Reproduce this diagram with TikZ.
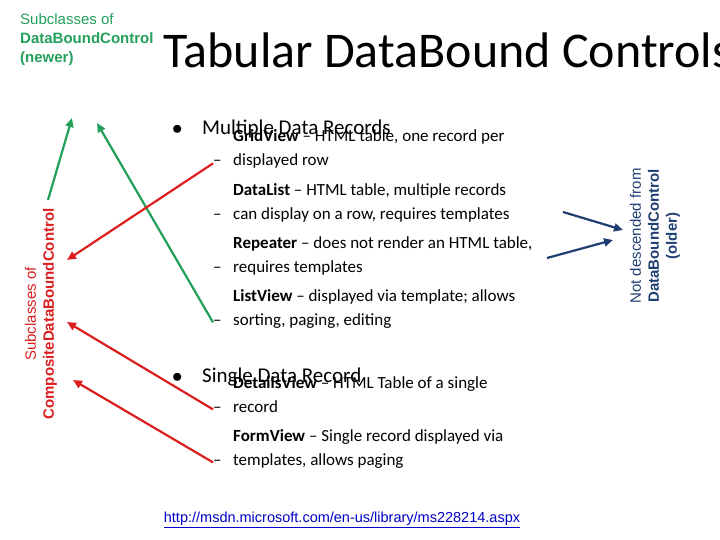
\documentclass[tikz,border=0pt]{standalone}
\usepackage{fontspec}
\setmainfont{Carlito}
\newfontfamily\arial{Liberation Sans}
\usetikzlibrary{positioning,arrows.meta}
\definecolor{newgreen}{RGB}{34,160,90}
\definecolor{compred}{RGB}{220,30,30}
\definecolor{oldblue}{RGB}{31,63,115}
\definecolor{linkblue}{RGB}{0,0,200}
\tikzset{
  item/.style={anchor=base west, inner sep=0, font=\fontsize{17}{24}\selectfont, align=left},
  dashmark/.style={anchor=base west, inner sep=0, font=\fontsize{17}{24}\selectfont},
  bullet/.style={anchor=base west, inner sep=0, font=\fontsize{21}{26}\selectfont},
  point/.style={-{Triangle[length=9pt,width=8pt]}, line width=2.2pt}
}
\begin{document}
\begin{tikzpicture}[x=1pt,y=-1pt]
	\useasboundingbox (0,0) rectangle (720,540);
	
	% headings
	\node[anchor=base west, inner sep=0, font=\fontsize{50}{50}\selectfont] (title) at (163,68) {Tabular DataBound Controls};
	\node[anchor=base west, inner sep=0, align=left, text=newgreen, font=\arial\fontsize{15}{19}\selectfont] (newer) at (20,63)
		{Subclasses of\\ \textbf{DataBoundControl}\\ \textbf{(newer)}};
	\node[rotate=90, inner sep=0, align=center, text=compred, font=\arial\fontsize{15}{18}\selectfont] (comp) at (41,314)
		{Subclasses of\\ \textbf{CompositeDataBoundControl}};
	\node[rotate=90, inner sep=0, align=center, text=oldblue, font=\arial\fontsize{15}{18}\selectfont] (old) at (655,236)
		{Not descended from\\ \textbf{DataBoundControl}\\ \textbf{(older)}};
	
	% multiple records
	\node[bullet] (b1) at (172,135) {$\bullet$};
	\node[bullet] (mdr) at (202,135) {Multiple Data Records};
	\node[dashmark] (d1) at (213,166) {--};
	\node[item] (gv) at (233,166) {\textbf{GridView} -- HTML table, one record per\\ displayed row};
	\node[dashmark] (d2) at (213,219) {--};
	\node[item] (dl) at (233,219) {\textbf{DataList} -- HTML table, multiple records\\ can display on a row, requires templates};
	\node[dashmark] (d3) at (213,272) {--};
	\node[item] (rp) at (233,272) {\textbf{Repeater} -- does not render an HTML table,\\ requires templates};
	\node[dashmark] (d4) at (213,325) {--};
	\node[item] (lv) at (233,325) {\textbf{ListView} -- displayed via template; allows\\ sorting, paging, editing};
	
	% single record
	\node[bullet] (b2) at (172,382) {$\bullet$};
	\node[bullet] (sdr) at (202,382) {Single Data Record};
	\node[dashmark] (d5) at (213,412) {--};
	\node[item] (dv) at (233,412) {\textbf{DetailsView} -- HTML Table of a single\\ record};
	\node[dashmark] (d6) at (213,465) {--};
	\node[item] (fv) at (233,465) {\textbf{FormView} -- Single record displayed via\\ templates, allows paging};
	
	\node[inner sep=0, text=linkblue, font=\arial\fontsize{14.5}{16}\selectfont] (url) at (342,520)
		{\underline{http://msdn.microsoft.com/en-us/library/ms228214.aspx}};
	
	% pointers
	\coordinate (gtip1) at (72,118);
	\coordinate (gtip2) at (97,123);
	\coordinate (gfoot) at (48,200);
	\coordinate (rtip1) at (67,260);
	\coordinate (rtip2) at (67,322);
	\coordinate (rtip3) at (73,380);
	\coordinate (btip1) at (623,230);
	\coordinate (btip2) at (613,240);
	\coordinate (bfoot1) at (563,212);
	\coordinate (bfoot2) at (547,258);
	\draw[point, newgreen] (gfoot) -- (gtip1);
	\draw[point, newgreen] (d4.west) -- (gtip2);
	\draw[point, compred] (d1.west) -- (rtip1);
	\draw[point, compred] (d5.west) -- (rtip2);
	\draw[point, compred] (d6.west) -- (rtip3);
	\draw[point, oldblue] (bfoot1) -- (btip1);
	\draw[point, oldblue] (bfoot2) -- (btip2);
	
\end{tikzpicture}
\end{document}
